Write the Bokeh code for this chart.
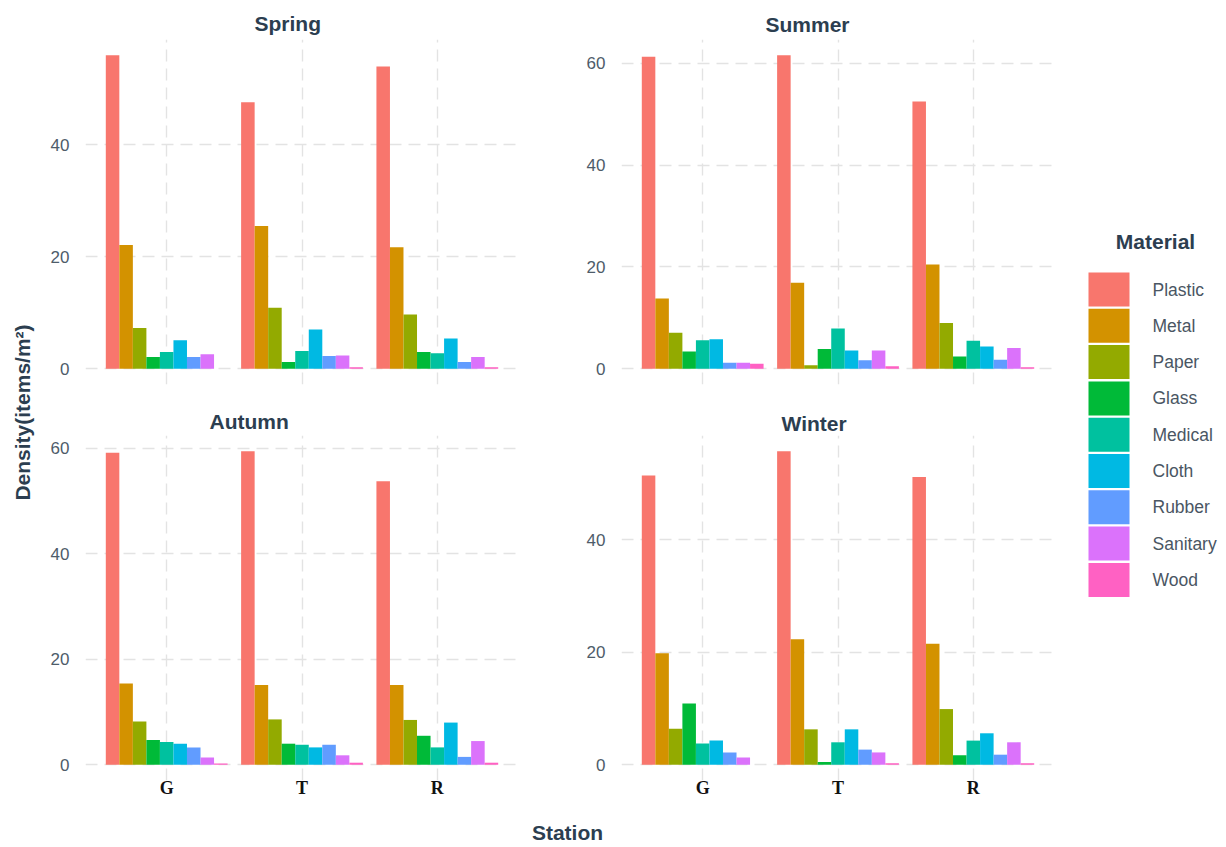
import math
from bokeh.plotting import figure
from bokeh.models import ColumnDataSource, Range1d, FactorRange, SingleIntervalTicker, Label
from bokeh.transform import dodge
from bokeh.layouts import row, column
from bokeh.embed import file_html
from bokeh.resources import INLINE
from bokeh.core.properties import value

# ---------------- data ----------------
stations = ["G", "T", "R"]
materials = ["Plastic", "Metal", "Paper", "Glass", "Medical", "Cloth", "Rubber", "Sanitary", "Wood"]
colors = ["#F8766D", "#D39200", "#93AA00", "#00BA38", "#00C19F", "#00B9E3", "#619CFF", "#DB72FB", "#FF61C3"]
seasons = ["Spring", "Summer", "Autumn", "Winter"]

# values per station, in the order of `materials` (items/m²)
spring_G = [56.0, 22.1, 7.3, 2.1, 3.0, 5.1, 2.1, 2.6, 0.0]
spring_T = [47.6, 25.5, 10.9, 1.2, 3.2, 7.0, 2.3, 2.4, 0.3]
spring_R = [54.0, 21.7, 9.7, 3.0, 2.8, 5.4, 1.2, 2.1, 0.3]

summer_G = [61.3, 13.8, 7.1, 3.4, 5.6, 5.8, 1.2, 1.2, 1.0]
summer_T = [61.6, 16.9, 0.7, 3.9, 7.9, 3.6, 1.7, 3.6, 0.5]
summer_R = [52.5, 20.5, 9.0, 2.4, 5.5, 4.4, 1.8, 4.1, 0.3]

autumn_G = [59.1, 15.4, 8.2, 4.7, 4.3, 4.0, 3.3, 1.4, 0.25]
autumn_T = [59.4, 15.1, 8.6, 4.0, 3.8, 3.3, 3.8, 1.8, 0.4]
autumn_R = [53.7, 15.1, 8.5, 5.5, 3.3, 8.0, 1.5, 4.5, 0.4]

winter_G = [51.4, 19.8, 6.4, 10.9, 3.8, 4.3, 2.2, 1.3, 0.0]
winter_T = [55.7, 22.3, 6.3, 0.5, 4.0, 6.3, 2.7, 2.2, 0.3]
winter_R = [51.1, 21.5, 9.9, 1.7, 4.3, 5.6, 1.8, 4.0, 0.3]

# ---------------- styles ----------------
TITLE_COLOR = "#2c3e50"
TICK_COLOR = "#4e5c6a"
LEGEND_TEXT = "#4a5663"
GRID_COLOR = "#e3e3e3"
SANS = "Liberation Sans"
SERIF = "Liberation Serif"
FRAME_W, FRAME_H = 433, 345


def panel(title, by_station, bl, br, bt, bb, show_x, title_offset, title_standoff):
    data = {"station": stations}
    for j, m in enumerate(materials):
        data[m] = [by_station[s][j] for s in stations]
    src = ColumnDataSource(data)
    vmax = max(max(v) for v in by_station.values())
    p = figure(x_range=FactorRange(*stations, range_padding=0.2 / 3),
               y_range=Range1d(-0.05 * vmax, 1.05 * vmax),
               frame_width=FRAME_W, frame_height=FRAME_H,
               min_border_left=bl, min_border_right=br,
               min_border_top=bt, min_border_bottom=bb,
               output_backend="svg", toolbar_location=None)
    n = len(materials)
    for j, (m, c) in enumerate(zip(materials, colors)):
        off = (j - (n - 1) / 2) * 0.1
        p.vbar(x=dodge("station", off, range=p.x_range), top=m, width=0.1,
               source=src, fill_color=c, line_color=None)
    p.title.text = title
    p.title.text_font = SANS
    p.title.text_font_style = "bold"
    p.title.text_font_size = "21px"
    p.title.text_color = TITLE_COLOR
    p.title.align = "left"
    p.title.offset = title_offset
    p.title.standoff = title_standoff
    p.outline_line_color = None
    p.background_fill_color = "white"
    p.border_fill_color = "white"

    p.yaxis.ticker = SingleIntervalTicker(interval=20, num_minor_ticks=0)
    p.yaxis.axis_line_color = None
    p.yaxis.major_tick_line_color = None
    p.yaxis.minor_tick_line_color = None
    p.yaxis.major_tick_out = 0
    p.yaxis.major_tick_in = 0
    p.yaxis.major_label_standoff = 16
    p.yaxis.major_label_text_font = SANS
    p.yaxis.major_label_text_font_size = "17px"
    p.yaxis.major_label_text_color = TICK_COLOR

    p.xaxis.axis_line_color = None
    p.xaxis.major_tick_line_color = None
    p.xaxis.minor_tick_line_color = None
    p.xaxis.major_tick_out = 0
    p.xaxis.major_tick_in = 0
    p.xaxis.major_label_standoff = -3
    p.xaxis.major_label_text_font = SERIF
    p.xaxis.major_label_text_font_style = "bold"
    p.xaxis.major_label_text_font_size = "18px"
    p.xaxis.major_label_text_color = "#111111"
    if not show_x:
        p.xaxis.visible = False

    for g in (p.xgrid, p.ygrid):
        g.grid_line_color = GRID_COLOR
        g.grid_line_width = 1.4
        g.grid_line_dash = "12 7"
    return p


# title offsets: distance from frame left edge to the title's left edge
p_spring = panel("Spring", {"G": spring_G, "T": spring_T, "R": spring_R},
                 45, 22, 39, 16, False, 169, 9)
p_summer = panel("Summer", {"G": summer_G, "T": summer_T, "R": summer_R},
                 81, 16, 39, 16, False, 144, 8)
p_autumn = panel("Autumn", {"G": autumn_G, "T": autumn_T, "R": autumn_R},
                 45, 22, 35, 32, True, 124, 6)
p_winter = panel("Winter", {"G": winter_G, "T": winter_T, "R": winter_R},
                 81, 16, 35, 32, True, 160, 2)


def blank(w, h):
    f = figure(frame_width=w, frame_height=h, x_range=Range1d(0, w), y_range=Range1d(0, h),
               x_axis_type=None, y_axis_type=None, min_border=0,
               output_backend="svg", toolbar_location=None)
    f.outline_line_color = None
    f.background_fill_color = "white"
    f.border_fill_color = "white"
    return f


TOTAL_H = 845

# y-axis title
ylab = blank(40, TOTAL_H)
ylab.add_layout(Label(x=22, y=TOTAL_H - 412, text="Density(items/m²)", angle=math.pi / 2,
                      text_align="center", text_baseline="middle",
                      text_font=SANS, text_font_style="bold", text_font_size="21px",
                      text_color=TITLE_COLOR))

# x-axis title
xlab = blank(1030, 33)
xlab.add_layout(Label(x=527, y=13, text="Station", text_align="center", text_baseline="middle",
                      text_font=SANS, text_font_style="bold", text_font_size="21px",
                      text_color=TITLE_COLOR))

# legend
leg = blank(148, TOTAL_H)
n = len(materials)
key_y = [TOTAL_H - 289 - 36.3 * i for i in range(n)]
leg_src = ColumnDataSource(dict(x=[38.5] * n, y=key_y, lx=[82] * n, label=materials, color=colors))
leg.rect(x="x", y="y", width=41, height=34, fill_color="color", line_color=None, source=leg_src)
leg.text(x="lx", y="y", text="label", source=leg_src, text_font=value(SANS),
         text_font_size=value("17.5px"), text_color=LEGEND_TEXT, text_baseline="middle")
leg.add_layout(Label(x=85, y=TOTAL_H - 241, text="Material", text_align="center", text_baseline="middle",
                     text_font=SANS, text_font_style="bold", text_font_size="21px",
                     text_color=TITLE_COLOR))

layout = row(ylab,
             column(row(p_spring, p_summer), row(p_autumn, p_winter), xlab),
             leg)

open("out.html", "w").write(file_html(layout, INLINE))
